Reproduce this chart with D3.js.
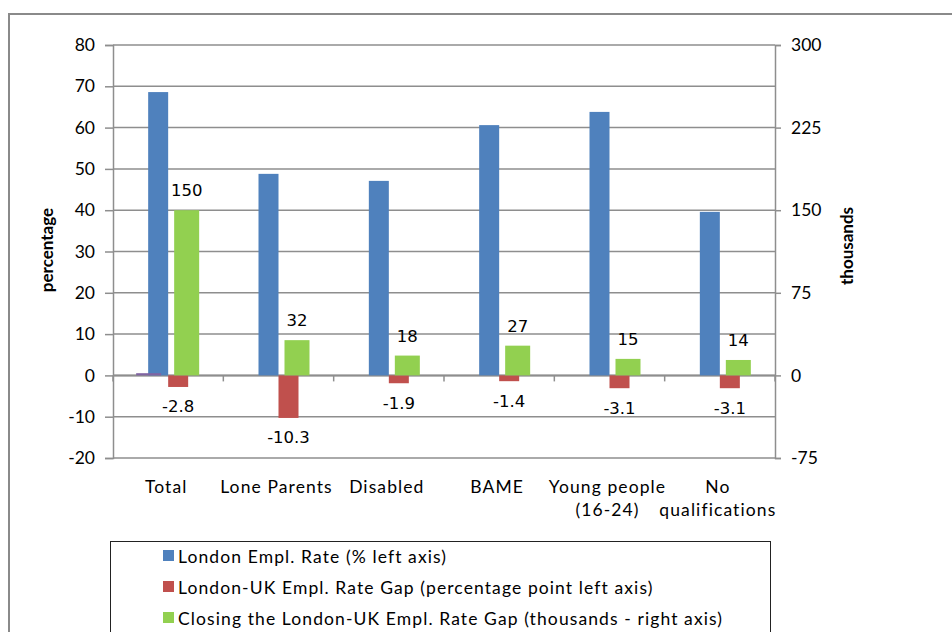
<!DOCTYPE html>
<html>
<head>
<meta charset="utf-8">
<script src="https://cdn.jsdelivr.net/npm/d3@7"></script>
<style>
  html, body { margin: 0; padding: 0; background: #fff; }
  svg { display: block; }
</style>
</head>
<body>
<svg id="chart" width="952" height="632"></svg>
<script>
// Employment groups and series
const categories = ["Total", "Lone Parents", "Disabled", "BAME", "Young people\n(16-24)", "No\nqualifications"];
const londonRate = [68.6, 48.8, 47.1, 60.6, 63.8, 39.6];       // % (left axis)
const rateGap = [-2.8, -10.3, -1.9, -1.4, -3.1, -3.1];          // percentage points (left axis)
const closingGap = [150, 32, 18, 27, 15, 14];                   // thousands (right axis)
const otherSecondary = [2, 0, 0, 0, 0, 0];                      // thousands (right axis), unlabelled
const leftTicks = [-20, -10, 0, 10, 20, 30, 40, 50, 60, 70, 80];
const rightTicks = [-75, 0, 75, 150, 225, 300];
const legendLabels = [
  "London Empl. Rate (% left axis)",
  "London-UK Empl. Rate Gap (percentage point left axis)",
  "Closing the London-UK Empl. Rate Gap (thousands - right axis)"
];

const colors = { blue: "#4F81BD", red: "#C0504D", green: "#92D050", purple: "#8064A2" };
const gridColor = "#8e8e8e";
const axisFont = "Lato, 'Liberation Sans', sans-serif";
const labelFont = "'DejaVu Sans', Verdana, sans-serif";

// plain hyphen-minus number formatting
const fmtInt = d => String(Math.round(d));
const fmtOne = d => d.toFixed(1);

const svg = d3.select("#chart");

const plot = { left: 113, right: 775, top: 45, bottom: 458 };

const x = d3.scaleBand().domain(d3.range(categories.length)).range([plot.left, plot.right]).padding(0);
const yL = d3.scaleLinear().domain([-20, 80]).range([plot.bottom, plot.top]);
const yR = d3.scaleLinear().domain([-75, 300]).range([plot.bottom, plot.top]);

// within-group offsets: primary pair and secondary pair
const primaryBand = d3.scaleBand().domain([0, 1]).range([-20, 20]).padding(0);
const secondaryBand = d3.scaleBand().domain([0, 1]).range([-32, 31]).paddingInner(0.342).paddingOuter(0);

// outer frame
svg.append("path")
  .attr("d", `M9,640 V14 H960`)
  .attr("fill", "none").attr("stroke", "#8a8a8a").attr("stroke-width", 2);

// gridlines
svg.append("g").selectAll("line").data(leftTicks).join("line")
  .attr("x1", plot.left).attr("x2", plot.right)
  .attr("y1", d => yL(d)).attr("y2", d => yL(d))
  .attr("stroke", gridColor).attr("stroke-width", 1.5);

// left axis
const leftAxis = d3.axisLeft(yL).tickValues(leftTicks).tickSize(8).tickPadding(10).tickFormat(fmtInt);
const gL = svg.append("g").attr("transform", `translate(${plot.left},0)`).call(leftAxis);
gL.select(".domain").attr("stroke", gridColor).attr("stroke-width", 1.5);
gL.selectAll(".tick line").attr("stroke", gridColor).attr("stroke-width", 1.5);
gL.selectAll(".tick text").attr("font-family", axisFont).attr("font-size", 17.5).attr("fill", "#000");

// right axis
const rightAxis = d3.axisRight(yR).tickValues(rightTicks).tickSize(6).tickPadding(10).tickFormat(fmtInt);
const gR = svg.append("g").attr("transform", `translate(${plot.right},0)`).call(rightAxis);
gR.select(".domain").attr("stroke", gridColor).attr("stroke-width", 1.5);
gR.selectAll(".tick line").attr("stroke", gridColor).attr("stroke-width", 1.5);
gR.selectAll(".tick text").attr("font-family", axisFont).attr("font-size", 17.5).attr("fill", "#000");

// category axis on zero line
const catTicks = d3.range(categories.length + 1).map(i => i === categories.length ? plot.right : x(i));
svg.append("line")
  .attr("x1", plot.left).attr("x2", plot.right)
  .attr("y1", yL(0)).attr("y2", yL(0))
  .attr("stroke", gridColor).attr("stroke-width", 2);
svg.append("g").selectAll("line").data(catTicks).join("line")
  .attr("x1", d => d).attr("x2", d => d)
  .attr("y1", yL(0)).attr("y2", yL(0) + 6)
  .attr("stroke", gridColor).attr("stroke-width", 1.5);

// category labels
const catG = svg.append("g");
categories.forEach((c, i) => {
  const cx = x(i) + x.bandwidth() / 2 - 2;
  const t = catG.append("text")
    .attr("x", cx)
    .attr("y", 493)
    .attr("text-anchor", "middle")
    .attr("font-family", axisFont).attr("font-size", 17.5)
    .attr("letter-spacing", 1.1)
    .attr("fill", "#000");
  c.split("\n").forEach((line, k) => {
    t.append("tspan").attr("x", cx).attr("dy", k === 0 ? 0 : 23).text(line);
  });
});

const groupCenter = i => x(i) + x.bandwidth() / 2;

// primary series: London rate (blue) and gap (red)
const bars = svg.append("g");
bars.selectAll(".blue").data(londonRate).join("rect")
  .attr("x", (d, i) => groupCenter(i) + primaryBand(0))
  .attr("width", primaryBand.bandwidth())
  .attr("y", d => yL(Math.max(0, d)))
  .attr("height", d => Math.abs(yL(d) - yL(0)))
  .attr("fill", colors.blue);
bars.selectAll(".red").data(rateGap).join("rect")
  .attr("x", (d, i) => groupCenter(i) + primaryBand(1))
  .attr("width", primaryBand.bandwidth())
  .attr("y", d => yL(Math.max(0, d)))
  .attr("height", d => Math.abs(yL(d) - yL(0)))
  .attr("fill", colors.red);

// secondary series
bars.selectAll(".purple").data(otherSecondary).join("rect")
  .attr("x", (d, i) => groupCenter(i) + secondaryBand(0))
  .attr("width", secondaryBand.bandwidth())
  .attr("y", d => yR(Math.max(0, d)))
  .attr("height", d => Math.abs(yR(d) - yR(0)))
  .attr("fill", colors.purple);
bars.selectAll(".green").data(closingGap).join("rect")
  .attr("x", (d, i) => groupCenter(i) + secondaryBand(1))
  .attr("width", secondaryBand.bandwidth())
  .attr("y", d => yR(Math.max(0, d)))
  .attr("height", d => Math.abs(yR(d) - yR(0)))
  .attr("fill", colors.green);

// data labels
const labels = svg.append("g").attr("font-family", labelFont).attr("font-size", 16.5).attr("fill", "#000").attr("text-anchor", "middle");
labels.selectAll(".gl").data(closingGap).join("text")
  .attr("x", (d, i) => groupCenter(i) + secondaryBand(1) + secondaryBand.bandwidth() / 2)
  .attr("y", d => yR(d) - 19.5)
  .attr("dominant-baseline", "central")
  .text(fmtInt);
labels.selectAll(".rl").data(rateGap).join("text")
  .attr("x", (d, i) => groupCenter(i) + primaryBand(1) + primaryBand.bandwidth() / 2)
  .attr("y", d => yL(d) + 20)
  .attr("dominant-baseline", "central")
  .text(fmtOne);

// axis titles
svg.append("text")
  .attr("transform", "translate(46,250) rotate(-90)")
  .attr("text-anchor", "middle").attr("dominant-baseline", "central")
  .attr("font-family", axisFont).attr("font-weight", "bold").attr("font-size", 17)
  .text("percentage");
svg.append("text")
  .attr("transform", "translate(846,246) rotate(-90)")
  .attr("text-anchor", "middle").attr("dominant-baseline", "central")
  .attr("font-family", axisFont).attr("font-weight", "bold").attr("font-size", 17)
  .text("thousands");

// legend
const legend = svg.append("g");
legend.append("rect")
  .attr("x", 110.5).attr("y", 541.5).attr("width", 660).attr("height", 120)
  .attr("fill", "#fff").attr("stroke", "#222").attr("stroke-width", 1);
const legendColors = [colors.blue, colors.red, colors.green];
const legendY = d3.scalePoint().domain(d3.range(3)).range([556, 618]);
legendLabels.forEach((lab, i) => {
  legend.append("rect")
    .attr("x", 163).attr("y", legendY(i) - 6).attr("width", 11).attr("height", 11)
    .attr("fill", legendColors[i]);
  legend.append("text")
    .attr("x", 178).attr("y", legendY(i))
    .attr("dominant-baseline", "central")
    .attr("font-family", axisFont).attr("font-size", 17.5).attr("letter-spacing", 1.1)
    .attr("fill", "#000")
    .text(lab);
});
</script>
</body>
</html>
